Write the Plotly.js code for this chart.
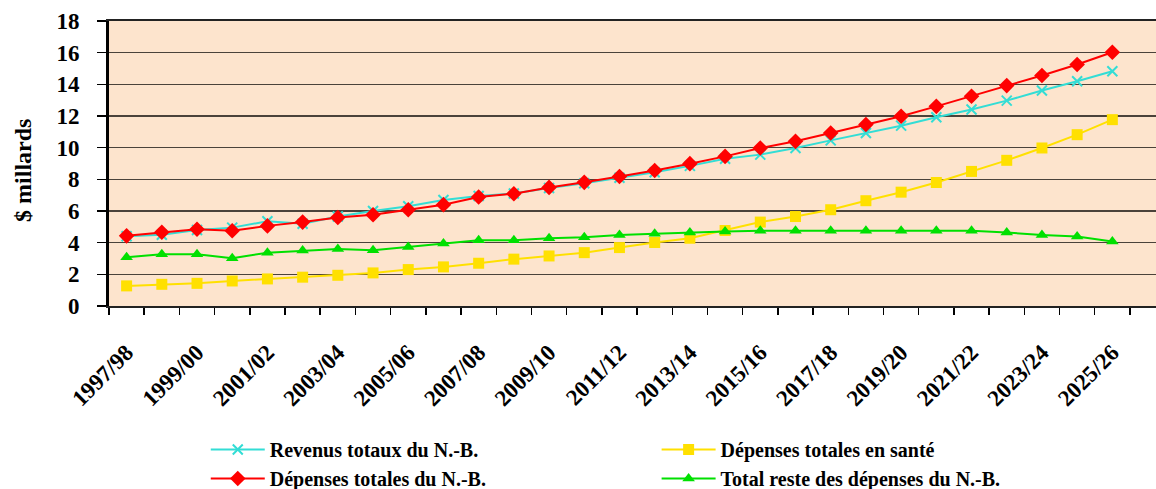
<!DOCTYPE html>
<html>
<head>
<meta charset="utf-8">
<script src="https://cdn.plot.ly/plotly-3.0.1.min.js"></script>
<style>
html,body{margin:0;padding:0;background:#fff;}
#chart{width:1156px;height:489px;}
</style>
</head>
<body>
<div id="chart"></div>
<script>
const years = ["1997/98","1998/99","1999/00","2000/01","2001/02","2002/03","2003/04","2004/05","2005/06","2006/07",
  "2007/08","2008/09","2009/10","2010/11","2011/12","2012/13","2013/14","2014/15","2015/16","2016/17",
  "2017/18","2018/19","2019/20","2020/21","2021/22","2022/23","2023/24","2024/25","2025/26"];

const revenusTotaux = [4.40,4.50,4.80,4.95,5.35,5.20,5.65,6.00,6.30,6.70,6.95,7.10,7.45,7.75,8.10,8.45,8.85,9.30,
  9.56,9.98,10.46,10.93,11.39,11.92,12.41,12.97,13.61,14.20,14.83];
const depensesTotales = [4.43,4.66,4.85,4.75,5.06,5.30,5.59,5.76,6.08,6.40,6.88,7.09,7.49,7.81,8.18,8.56,8.99,9.45,
  9.98,10.40,10.93,11.46,11.98,12.61,13.25,13.92,14.56,15.25,16.03];
const depensesSante = [1.27,1.37,1.43,1.58,1.71,1.82,1.94,2.09,2.30,2.47,2.70,2.96,3.16,3.37,3.69,4.01,4.28,4.77,
  5.30,5.65,6.08,6.65,7.19,7.80,8.50,9.20,9.98,10.82,11.77];
const resteDepenses = [3.08,3.27,3.27,3.02,3.37,3.50,3.60,3.52,3.72,3.95,4.15,4.15,4.28,4.35,4.49,4.56,4.64,4.70,
  4.75,4.75,4.76,4.76,4.76,4.75,4.75,4.64,4.49,4.39,4.07];

const seriesNames = ["Revenus totaux du N.-B.","Dépenses totales du N.-B.","Dépenses totales en santé","Total reste des dépenses du N.-B."];
const yTicks = [0,2,4,6,8,10,12,14,16,18];
const yTitle = "$ millards";

const xi = years.map((_, i) => i);
const tickIdx = xi.filter(i => i % 2 === 0);

const F = "Liberation Serif, Times New Roman, serif";

const traces = [
  {x: xi, y: depensesSante, name: seriesNames[2], type: 'scatter', mode: 'lines+markers',
   line: {color: '#FFE000', width: 2}, marker: {symbol: 'square', size: 11, color: '#FFE000'},
   legend: 'legend2', legendgroup: 'c'},
  {x: xi, y: resteDepenses, name: seriesNames[3], type: 'scatter', mode: 'lines+markers',
   line: {color: '#00E000', width: 2}, marker: {symbol: 'triangle-up', size: 11, color: '#00E000'},
   legend: 'legend2', legendgroup: 'd'},
  {x: xi, y: revenusTotaux, name: seriesNames[0], type: 'scatter', mode: 'lines+markers',
   line: {color: '#33DDD5', width: 2}, marker: {symbol: 'x-thin', size: 10, color: '#33DDD5', line: {color: '#33DDD5', width: 2}},
   legend: 'legend', legendgroup: 'a'},
  {x: xi, y: depensesTotales, name: seriesNames[1], type: 'scatter', mode: 'lines+markers',
   line: {color: '#FF0000', width: 2}, marker: {symbol: 'diamond', size: 12, color: '#FF0000'},
   legend: 'legend', legendgroup: 'b'}
];

const layout = {
  width: 1156, height: 489,
  margin: {l: 109, r: 0, t: 21, b: 183, autoexpand: false},
  paper_bgcolor: '#ffffff',
  plot_bgcolor: '#FDE4CD',
  font: {family: F, color: '#000', weight: 'bold'},
  showlegend: true,
  xaxis: {
    automargin: false,
    range: [-0.5, 29.24],
    tickmode: 'array',
    tickvals: tickIdx,
    ticktext: tickIdx.map(i => years[i]),
    tickangle: -45,
    ticks: '',
    ticklabelstandoff: 22,
    tickfont: {family: F, size: 23, weight: 'bold', color: '#000'},
    minor: {tick0: -0.5, dtick: 1, ticks: 'outside', ticklen: 7, tickwidth: 1.5, tickcolor: '#000', showgrid: false},
    showgrid: false, zeroline: false,
    showline: true, linecolor: '#222', linewidth: 2, mirror: true
  },
  yaxis: {
    automargin: false,
    range: [0, 18],
    tickmode: 'array',
    tickvals: yTicks,
    ticks: 'outside', ticklen: 9, tickwidth: 1.5, tickcolor: '#000',
    ticklabelstandoff: 13,
    tickfont: {family: F, size: 23, weight: 'bold', color: '#000'},
    showgrid: true, gridcolor: '#4a423a', gridwidth: 1.5,
    zeroline: false,
    showline: true, linecolor: '#000', linewidth: 3
  },
  annotations: [{
    text: yTitle, xref: 'paper', yref: 'paper', x: 0, y: 0.474,
    xshift: -86, xanchor: 'center', yanchor: 'middle', textangle: -90, showarrow: false,
    font: {family: F, size: 24, weight: 'bold', color: '#000'}
  }],
  legend: {
    xref: 'container', yref: 'container',
    x: 0.178, xanchor: 'left', y: 0.1207, yanchor: 'top',
    orientation: 'v', traceorder: 'grouped', tracegroupgap: 0,
    itemwidth: 54,
    bgcolor: 'rgba(0,0,0,0)',
    font: {family: F, size: 20, weight: 'bold', color: '#000'}
  },
  legend2: {
    xref: 'container', yref: 'container',
    x: 0.568, xanchor: 'left', y: 0.1207, yanchor: 'top',
    orientation: 'v', traceorder: 'grouped', tracegroupgap: 0,
    itemwidth: 54,
    bgcolor: 'rgba(0,0,0,0)',
    font: {family: F, size: 20, weight: 'bold', color: '#000'}
  }
};

Plotly.newPlot('chart', traces, layout, {displayModeBar: false, staticPlot: true});
</script>
</body>
</html>
